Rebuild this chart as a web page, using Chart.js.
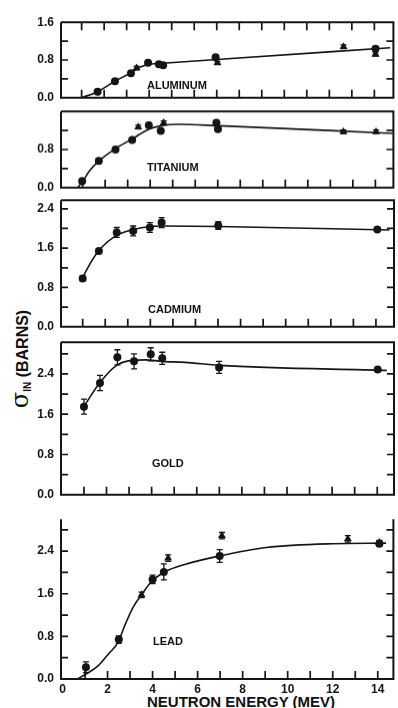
<!DOCTYPE html>
<html>
<head>
<meta charset="utf-8">
<script src="https://cdn.jsdelivr.net/npm/chart.js@4.4.0/dist/chart.umd.min.js"></script>
<style>
  html, body { margin: 0; padding: 0; background: #fff; }
  #wrap { position: relative; width: 398px; height: 708px; overflow: hidden; }
  #wrap canvas { position: absolute; left: 0; }
  .panel-name { position: absolute; font: bold 11px 'Liberation Sans', Arial, sans-serif; color: #111; white-space: nowrap; line-height: 11px; }
  #xTitle { position: absolute; left: 241px; top: 694px; transform: translateX(-50%); font: bold 15px 'Liberation Sans', Arial, sans-serif; color: #111; white-space: nowrap; line-height: 15px; }
  #yTitle { position: absolute; left: 24px; top: 359px; transform: translate(-50%, -50%) rotate(-90deg); font: bold 16px 'Liberation Sans', Arial, sans-serif; color: #111; white-space: nowrap; line-height: 20px; }
  #yTitle .sig { font-size: 24px; font-weight: normal; font-family: 'DejaVu Serif', serif; }
  #yTitle sub { font-size: 10px; vertical-align: -3px; }
</style>
</head>
<body>
<div id="wrap">
  <div id="yTitle"><span class="sig">σ</span><sub>IN</sub> (BARNS)</div>
  <div id="xTitle">NEUTRON ENERGY (MEV)</div>
</div>
<script>
// x axis (neutron energy, MeV)
const energyTickLabels = [0, 2, 4, 6, 8, 10, 12, 14];

// Aluminum
const alDotE = [1.71, 2.48, 3.19, 3.95, 4.43, 4.62, 6.95, 14.05];
const alDotS = [0.13, 0.35, 0.52, 0.74, 0.71, 0.69, 0.86, 1.04];
const alTriE = [3.44, 7.03, 12.63, 14.05];
const alTriS = [0.63, 0.74, 1.08, 0.92];
const alTriErr = [0.04, 0.03, 0.04, 0.03];
const alFitE = [1.0, 1.71, 2.48, 3.19, 3.6, 4.05, 4.6, 7.0, 14.7];
const alFitS = [0.0, 0.13, 0.35, 0.53, 0.65, 0.71, 0.73, 0.81, 1.06];
const alYLabels = [0, 0.8, 1.6];

// Titanium
const tiDotE = [0.98, 1.72, 2.46, 3.2, 3.94, 4.47, 6.94, 7.01];
const tiDotS = [0.14, 0.56, 0.80, 1.0, 1.31, 1.19, 1.36, 1.23];
const tiTriE = [3.47, 4.6, 12.58, 14.03];
const tiTriS = [1.27, 1.36, 1.17, 1.17];
const tiTriErr = [0.04, 0.04, 0.04, 0.04];
const tiFitE = [0.78, 1.0, 1.3, 1.72, 2.46, 3.2, 3.9, 4.5, 5.3, 7.0, 14.77];
const tiFitS = [0.0, 0.13, 0.35, 0.56, 0.82, 1.02, 1.22, 1.30, 1.33, 1.30, 1.14];
const tiYLabels = [0, 0.8];

// Cadmium
const cdDotE = [1.0, 1.72, 2.51, 3.24, 3.98, 4.5, 7.01, 14.06];
const cdDotS = [0.98, 1.54, 1.92, 1.95, 2.02, 2.12, 2.06, 1.98];
const cdDotErr = [0.05, 0.05, 0.1, 0.1, 0.1, 0.1, 0.08, 0.02];
const cdFitE = [1.0, 1.2, 1.7, 2.5, 3.25, 4.0, 4.65, 7.0, 14.6];
const cdFitS = [1.0, 1.18, 1.54, 1.86, 1.98, 2.04, 2.05, 2.04, 1.97];
const cdYLabels = [0, 0.8, 1.6, 2.4];

// Gold
const auDotE = [1.0, 1.71, 2.48, 3.22, 3.96, 4.47, 6.99, 14.02];
const auDotS = [1.75, 2.22, 2.73, 2.65, 2.79, 2.71, 2.53, 2.49];
const auDotErr = [0.15, 0.15, 0.15, 0.15, 0.13, 0.12, 0.12, 0.02];
const auFitE = [1.02, 1.71, 2.45, 3.12, 3.71, 4.45, 5.48, 7.0, 14.42];
const auFitS = [1.77, 2.23, 2.57, 2.67, 2.68, 2.65, 2.63, 2.57, 2.47];
const auYLabels = [0, 0.8, 1.6, 2.4];

// Lead
const pbDotE = [1.04, 2.5, 4.0, 4.5, 6.98, 14.07];
const pbDotS = [0.22, 0.74, 1.87, 2.01, 2.31, 2.54];
const pbDotErr = [0.1, 0.07, 0.08, 0.15, 0.12, 0.05];
const pbTriE = [3.51, 4.69, 7.08, 12.67, 14.07];
const pbTriS = [1.58, 2.27, 2.69, 2.63, 2.56];
const pbTriErr = [0.05, 0.06, 0.06, 0.06, 0.04];
const pbFitE = [0.67, 1.59, 2.04, 2.47, 2.77, 3.14, 3.51, 3.95, 4.54, 5.43, 6.98, 9.05, 12.0, 14.37];
const pbFitS = [0.0, 0.25, 0.47, 0.69, 1.01, 1.35, 1.58, 1.83, 2.01, 2.15, 2.31, 2.47, 2.54, 2.55];
const pbYLabels = [0, 0.8, 1.6, 2.4];

const INK = '#151515';
const AXIS_LEFT = 61;      // pixel of the left axis line
const AXIS_RIGHT = 394;    // pixel of the right frame line
const PX_PER_MEV = 22.56;
const PAD = 9;

Chart.defaults.font.family = "'Liberation Sans', Arial, sans-serif";
Chart.defaults.font.size = 12;
Chart.defaults.font.weight = 'bold';
Chart.defaults.color = INK;

function pts(es, ss) {
    return es.map((e, i) => ({ x: e, y: ss[i] }));
}

// Frame, inward tick marks and error bars
const framePlugin = {
    id: 'frame',
    afterDatasetsDraw(chart, args, opts) {
        const { ctx, chartArea: a, scales: { x, y } } = chart;
        ctx.save();
        ctx.strokeStyle = INK;
        ctx.lineCap = 'butt';

        // error bars
        ctx.lineWidth = 1.3;
        chart.data.datasets.forEach(ds => {
            if (!ds.errors) return;
            ds.data.forEach((p, i) => {
                const e = ds.errors[i];
                if (!e) return;
                const px = x.getPixelForValue(p.x);
                const y1 = y.getPixelForValue(p.y + e);
                const y2 = y.getPixelForValue(p.y - e);
                ctx.beginPath();
                ctx.moveTo(px, y1); ctx.lineTo(px, y2);
                ctx.moveTo(px - 3, y1); ctx.lineTo(px + 3, y1);
                ctx.moveTo(px - 3, y2); ctx.lineTo(px + 3, y2);
                ctx.stroke();
            });
        });

        // frame
        ctx.lineWidth = 2;
        ctx.beginPath();
        ctx.moveTo(a.left, a.top); ctx.lineTo(a.left, a.bottom);
        ctx.lineTo(a.right, a.bottom); ctx.lineTo(a.right, a.top);
        if (opts.topLine) { ctx.lineTo(a.left, a.top); }
        ctx.stroke();

        // ticks
        ctx.lineWidth = 1.7;
        ctx.beginPath();
        for (let v = 1; v <= Math.floor(x.max); v++) {
            const px = x.getPixelForValue(v);
            ctx.moveTo(px, a.bottom); ctx.lineTo(px, a.bottom - 8);
            if (opts.topTicks) { ctx.moveTo(px, a.top); ctx.lineTo(px, a.top + 8); }
        }
        for (let k = 1; k * 0.4 < y.max - 0.05; k++) {
            const py = y.getPixelForValue(k * 0.4);
            ctx.moveTo(a.left, py); ctx.lineTo(a.left + 7, py);
            ctx.moveTo(a.right, py); ctx.lineTo(a.right - 7, py);
        }
        ctx.stroke();
        ctx.restore();
    }
};

const panels = [
    { name: 'ALUMINUM', top: 17, bottom: 103, yMax: 1.6, x0: 59.1, label: [147, 79.5], topLine: true, topTicks: true,
      fit: [alFitE, alFitS], dots: [alDotE, alDotS, null], tris: [alTriE, alTriS, alTriErr], yLabels: alYLabels },
    { name: 'TITANIUM', top: 106, bottom: 192.5, yMax: 1.6, x0: 60.1, label: [147, 161.5], topLine: true,
      fit: [tiFitE, tiFitS], dots: [tiDotE, tiDotS, null], tris: [tiTriE, tiTriS, tiTriErr], yLabels: tiYLabels },
    { name: 'CADMIUM', top: 195, bottom: 332, yMax: 2.575, x0: 60.1, label: [148, 303.5], topLine: true,
      fit: [cdFitE, cdFitS], dots: [cdDotE, cdDotS, cdDotErr], tris: null, yLabels: cdYLabels },
    { name: 'GOLD', top: 337, bottom: 500, yMax: 3.03, x0: 61.4, label: [152, 457.5], topLine: true,
      fit: [auFitE, auFitS], dots: [auDotE, auDotS, auDotErr], tris: null, yLabels: auYLabels },
    { name: 'LEAD', top: 514, bottom: 679, yMax: 3.0, x0: 62.5, label: [153, 635.5], topLine: false, last: true,
      fit: [pbFitE, pbFitS], dots: [pbDotE, pbDotS, pbDotErr], tris: [pbTriE, pbTriS, pbTriErr], yLabels: pbYLabels }
];

const wrap = document.getElementById('wrap');

panels.forEach(p => {
    const canvas = document.createElement('canvas');
    const canvasTop = p.top - PAD;
    const height = p.last ? 708 - canvasTop : (p.bottom - p.top) + 2 * PAD;
    canvas.width = 398;
    canvas.height = height;
    canvas.style.top = canvasTop + 'px';
    canvas.style.width = '398px';
    canvas.style.height = height + 'px';
    wrap.appendChild(canvas);

    const nameDiv = document.createElement('div');
    nameDiv.className = 'panel-name';
    nameDiv.textContent = p.name;
    nameDiv.style.left = p.label[0] + 'px';
    nameDiv.style.top = p.label[1] + 'px';
    wrap.appendChild(nameDiv);

    const datasets = [{
        data: pts(p.fit[0], p.fit[1]),
        borderColor: INK,
        borderWidth: 1.6,
        pointRadius: 0,
        cubicInterpolationMode: 'monotone',
        fill: false
    }, {
        data: pts(p.dots[0], p.dots[1]),
        errors: p.dots[2],
        showLine: false,
        pointStyle: 'circle',
        pointRadius: 4,
        backgroundColor: INK,
        borderColor: INK,
        borderWidth: 0
    }];
    if (p.tris) {
        datasets.push({
            data: pts(p.tris[0], p.tris[1]),
            errors: p.tris[2],
            showLine: false,
            pointStyle: 'triangle',
            pointRadius: 4.6,
            backgroundColor: INK,
            borderColor: INK,
            borderWidth: 0
        });
    }

    const yLabels = p.yLabels;
    const xScale = {
        type: 'linear',
        min: (AXIS_LEFT - p.x0) / PX_PER_MEV,
        max: (AXIS_RIGHT - p.x0) / PX_PER_MEV,
        display: !!p.last,
        grid: { display: false, drawTicks: false },
        border: { display: false },
        ticks: {
            stepSize: 1,
            includeBounds: false,
            autoSkip: false,
            maxRotation: 0,
            padding: 3,
            callback: v => energyTickLabels.includes(v) ? String(v) : ''
        }
    };
    if (p.last) {
        xScale.afterFit = s => { s.height = 708 - p.bottom; };
    }

    new Chart(canvas, {
        type: 'line',
        data: { datasets: datasets },
        plugins: [framePlugin],
        options: {
            responsive: false,
            animation: false,
            devicePixelRatio: 1,
            layout: { padding: { left: 0, right: 398 - AXIS_RIGHT, top: PAD, bottom: p.last ? 0 : PAD } },
            plugins: {
                legend: { display: false },
                tooltip: { enabled: false },
                frame: { topLine: p.topLine, topTicks: !!p.topTicks }
            },
            scales: {
                x: xScale,
                y: {
                    type: 'linear',
                    min: 0,
                    max: p.yMax,
                    grid: { display: false, drawTicks: false },
                    border: { display: false },
                    ticks: {
                        stepSize: 0.4,
                        includeBounds: false,
                        autoSkip: false,
                        padding: 7,
                        callback: v => yLabels.some(l => Math.abs(l - v) < 1e-6) ? v.toFixed(1) : ''
                    },
                    afterFit: s => { s.width = AXIS_LEFT; }
                }
            }
        }
    });
});
</script>
</body>
</html>
